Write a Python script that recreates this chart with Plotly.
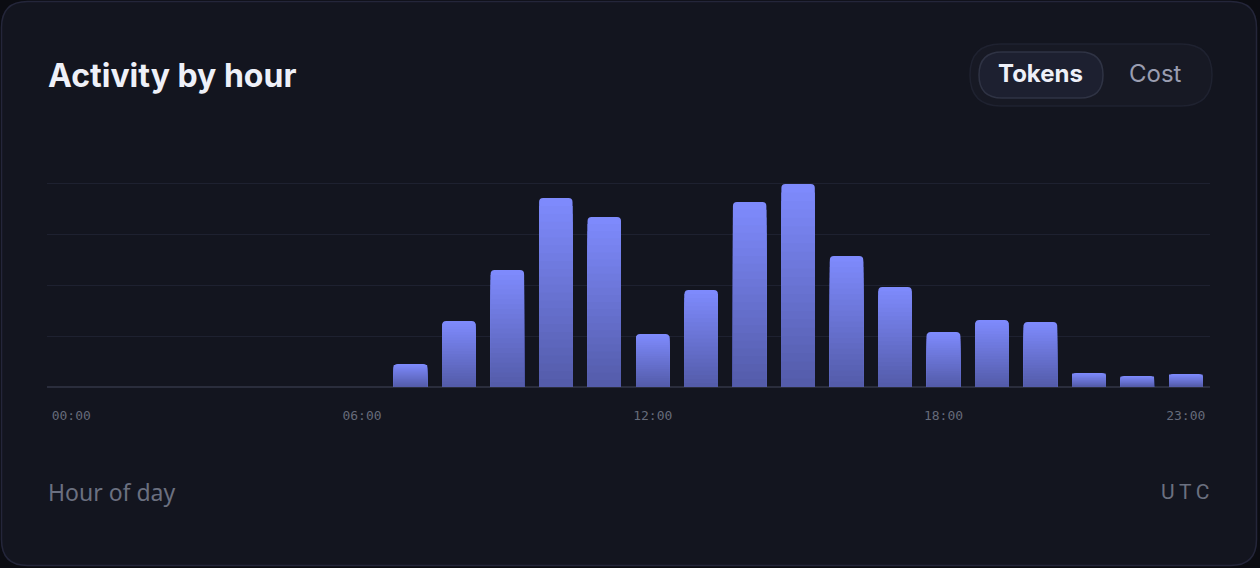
import plotly.graph_objects as go

W, H = 1260, 568

hours = list(range(24))
tokens = [0, 0, 0, 0, 0, 0, 0, 23, 66, 117, 189, 170, 53, 97, 185, 203, 131, 100, 55, 67, 65, 14, 11, 13]
tick_hours = [0, 6, 12, 18, 23]
tick_text = ["00:00", "06:00", "12:00", "18:00", "23:00"]

top_rgb = (126, 138, 252)
bot_rgb = (84, 92, 170)

fig = go.Figure()
N = 24
for k in range(N):
    frac = 1 - k / N
    t = k / (N - 1)
    c = tuple(round(top_rgb[i] + (bot_rgb[i] - top_rgb[i]) * t) for i in range(3))
    fig.add_trace(go.Bar(
        x=hours, y=[v * frac for v in tokens],
        marker=dict(color=f"rgb{c}", line=dict(width=0), cornerradius=4 if k == 0 else 0),
        hoverinfo="skip" if k else None, showlegend=False,
    ))

def px(x):
    return x / W

def py(y):
    return 1 - y / H

def rrect(x0, y0, x1, y1, r):
    X0, X1 = px(x0), px(x1)
    Y0, Y1 = py(y0), py(y1)
    rx, ry = r / W, r / H
    return (f"M {X0+rx},{Y0} L {X1-rx},{Y0} Q {X1},{Y0} {X1},{Y0-ry} "
            f"L {X1},{Y1+ry} Q {X1},{Y1} {X1-rx},{Y1} L {X0+rx},{Y1} "
            f"Q {X0},{Y1} {X0},{Y1+ry} L {X0},{Y0-ry} Q {X0},{Y0} {X0+rx},{Y0} Z")

shapes = [
    dict(type="path", xref="paper", yref="paper", path=rrect(1.5, 1.5, 1256.5, 565.5, 26),
         fillcolor="#13151f", line=dict(color="#24263a", width=1.5), layer="below"),
    dict(type="path", xref="paper", yref="paper", path=rrect(970, 44, 1212, 106, 31),
         fillcolor="#171924", line=dict(color="#1f2230", width=1.5), layer="below"),
    dict(type="path", xref="paper", yref="paper", path=rrect(979, 52, 1103, 98, 23),
         fillcolor="#1d2030", line=dict(color="#2f3344", width=1.5), layer="below"),
]

annotations = [
    dict(text="<b>Activity by hour</b>", x=px(46), y=py(75), xref="paper", yref="paper",
         xanchor="left", yanchor="middle", showarrow=False,
         font=dict(family="Inter", size=32, color="#eef0f8")),
    dict(text="<b>Tokens</b>", x=px(1040), y=py(74), xref="paper", yref="paper",
         xanchor="center", yanchor="middle", showarrow=False,
         font=dict(family="Inter", size=24, color="#eef0f8")),
    dict(text="Cost", x=px(1155), y=py(74), xref="paper", yref="paper",
         xanchor="center", yanchor="middle", showarrow=False,
         font=dict(family="Inter", size=24, color="#9a9db0")),
    dict(text="Hour of day", x=px(46), y=py(492), xref="paper", yref="paper",
         xanchor="left", yanchor="middle", showarrow=False,
         font=dict(family="Noto Sans", size=23, color="#6b7080")),
    dict(text="U\u2009T\u2009C", x=px(1211), y=py(492), xref="paper", yref="paper",
         xanchor="right", yanchor="middle", showarrow=False,
         font=dict(family="Roboto", size=21, color="#6b7080")),
]

fig.update_layout(
    width=W, height=H, margin=dict(l=0, r=0, t=0, b=0),
    paper_bgcolor="#0b0c12", plot_bgcolor="rgba(0,0,0,0)",
    barmode="overlay", bargap=0.31,
    shapes=shapes, annotations=annotations,
    xaxis=dict(domain=[px(47), px(1210)], range=[-0.5, 23.5], tickmode="array",
               tickvals=tick_hours, ticktext=tick_text, showgrid=False, zeroline=False,
               showline=False, ticks="", ticklabelstandoff=19,
               tickfont=dict(family="DejaVu Sans Mono", size=13, color="#666b7a")),
    yaxis=dict(domain=[py(387), py(180)], range=[0, 207], tickmode="array",
               tickvals=[51, 102, 153, 204], showticklabels=False,
               gridcolor="#1e2130", gridwidth=1, zeroline=True, zerolinecolor="#2a2d3c",
               zerolinewidth=1.5, showline=False),
)

fig.write_html("out.html", config={"displayModeBar": False},
               post_script="document.body.style.margin='0';document.body.style.background='#0b0c12';")
